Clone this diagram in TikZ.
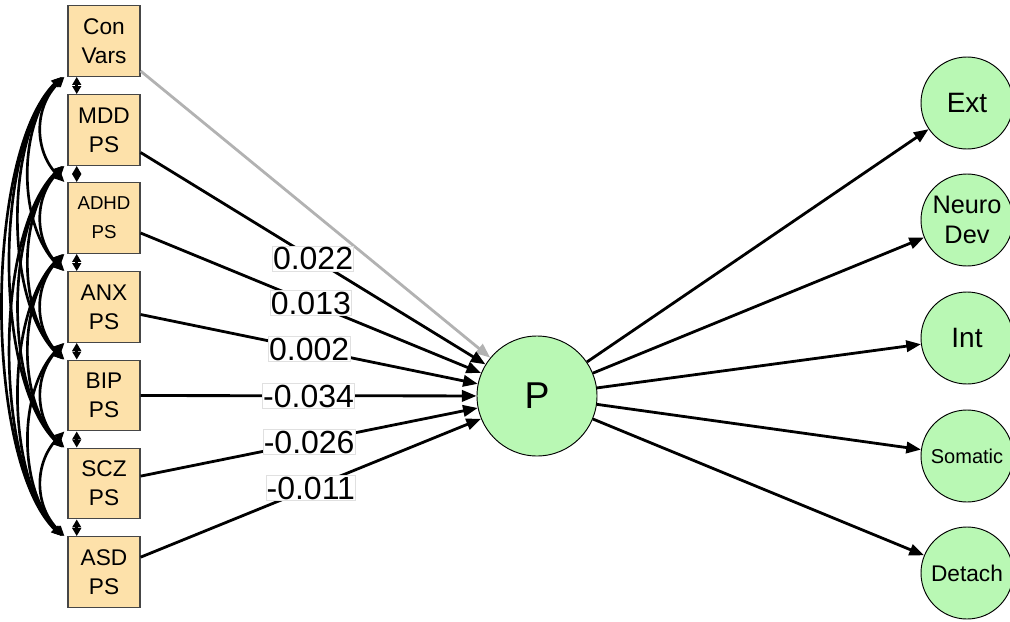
\documentclass[tikz,border=0pt]{standalone}
\usepackage{fontspec}
\setmainfont{Liberation Sans}
\usetikzlibrary{arrows.meta}
\definecolor{boxfill}{RGB}{253,225,170}
\definecolor{boxline}{RGB}{70,70,70}
\definecolor{circfill}{RGB}{185,248,180}
\definecolor{lightarrow}{RGB}{178,178,178}
\tikzset{
  psbox/.style={draw=boxline, line width=0.9pt, fill=boxfill, minimum width=54pt, minimum height=53pt, inner sep=0pt, align=center, font=\fontsize{17}{22}\selectfont},
  factor/.style={circle, draw=black, line width=0.7pt, fill=circfill, minimum size=69pt, inner sep=0pt, align=center, font=\fontsize{21}{22.5}\selectfont},
  path/.style={line width=2.1pt, -{Triangle[length=11pt,width=8.5pt]}},
  cov/.style={line width=2pt, {Triangle[length=7.5pt,width=6.5pt]}-{Triangle[length=7.5pt,width=6.5pt]}},
  covshort/.style={line width=2pt, {Triangle[length=6pt,width=6.5pt]}-{Triangle[length=6pt,width=6.5pt]}},
  coef/.style={fill=white, draw=black!12, line width=0.4pt, inner xsep=0.5pt, inner ysep=0.3pt, text height=17.5pt, text depth=0.6pt, font=\fontsize{24}{24}\selectfont, pos=0.5}
}
\begin{document}
\begin{tikzpicture}[x=0.75pt,y=-0.75pt]
\useasboundingbox (0,0) rectangle (1010,621);
% predictor boxes
\node[psbox] (b0) at (104,41) {Con\\Vars};
\node[psbox] (b1) at (104,130) {MDD\\PS};
\node[psbox, font=\fontsize{14}{22}\selectfont] (b2) at (104,218) {ADHD\\PS};
\node[psbox] (b3) at (104,307) {ANX\\PS};
\node[psbox] (b4) at (104,395.5) {BIP\\PS};
\node[psbox] (b5) at (104,483.5) {SCZ\\PS};
\node[psbox] (b6) at (104,572) {ASD\\PS};
% general factor
\node[factor, minimum size=90pt, font=\fontsize{28}{28}\selectfont] (P) at (537,396) {P};
% specific factors
\node[factor] (ext) at (967,103) {Ext};
\node[factor, font=\fontsize{19}{22.5}\selectfont] (neuro) at (967,220) {Neuro\\Dev};
\node[factor] (int) at (967,338) {Int};
\node[factor, font=\fontsize{15}{18}\selectfont] (som) at (967,456) {Somatic};
\node[factor, font=\fontsize{17}{20}\selectfont] (det) at (967,573) {Detach};
% covariances between neighbours
\foreach \i in {0,...,5}{
  \pgfmathtruncatemacro\nb{\i+1}
  \draw[covshort] ([xshift=7pt]b\i.south west) -- ([xshift=7pt]b\nb.north west);
}
% covariances between non-neighbours
\foreach \i in {0,...,4}{
  \pgfmathtruncatemacro\first{\i+2}
  \foreach \j in {\first,...,6}{
    \pgfmathsetmacro\loose{1.5/sqrt(\j-\i)}
    \pgfmathsetmacro\sh{-1-0.6*(\j-\i)}
    \draw[cov] ([xshift=\sh pt]b\i.south west) to[bend right=45, looseness=\loose] ([xshift=\sh pt]b\j.north west);
  }
}
% paths to P
\draw[path, lightarrow] (b0) -- (P);
\draw[path] (b1) -- (P) node[coef] {0.022};
\draw[path] (b2) -- (P) node[coef] {0.013};
\draw[path] (b3) -- (P) node[coef] {0.002};
\draw[path] (b4) -- (P) node[coef] {-0.034};
\draw[path] (b5) -- (P) node[coef] {-0.026};
\draw[path] (b6) -- (P) node[coef] {-0.011};
% loadings
\foreach \t in {ext,neuro,int,som,det}{
  \draw[path] (P) -- (\t);
}
\end{tikzpicture}
\end{document}
